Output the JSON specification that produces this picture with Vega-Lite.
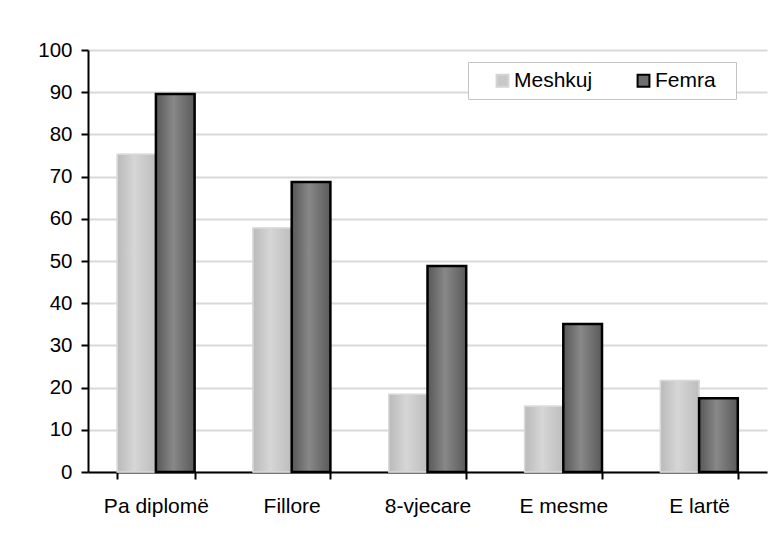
{
  "$schema": "https://vega.github.io/schema/vega-lite/v6.json",
  "width": 679,
  "height": 422,
  "autosize": "none",
  "padding": {"left": 88, "top": 50, "right": 2, "bottom": 64},
  "background": "white",
  "data": {
    "values": [
      {"category": "Pa diplomë", "series": "Meshkuj", "value": 75.3},
      {"category": "Pa diplomë", "series": "Femra", "value": 89.6},
      {"category": "Fillore", "series": "Meshkuj", "value": 57.8},
      {"category": "Fillore", "series": "Femra", "value": 68.7},
      {"category": "8-vjecare", "series": "Meshkuj", "value": 18.4},
      {"category": "8-vjecare", "series": "Femra", "value": 48.8},
      {"category": "E mesme", "series": "Meshkuj", "value": 15.6},
      {"category": "E mesme", "series": "Femra", "value": 35.1},
      {"category": "E lartë", "series": "Meshkuj", "value": 21.7},
      {"category": "E lartë", "series": "Femra", "value": 17.5}
    ]
  },
  "encoding": {
    "x": {
      "field": "category", "type": "nominal",
      "sort": ["Pa diplomë", "Fillore", "8-vjecare", "E mesme", "E lartë"],
      "scale": {"paddingInner": 0.43, "paddingOuter": 0.215},
      "axis": {
        "title": null, "labelAngle": 0, "tickBand": "extent",
        "domainColor": "black", "domainWidth": 2,
        "tickColor": "black", "tickWidth": 2, "tickSize": 7,
        "labelFont": "Liberation Sans", "labelFontSize": 21, "labelColor": "black",
        "labelPadding": 16, "grid": false
      }
    },
    "xOffset": {
      "field": "series", "type": "nominal",
      "sort": ["Meshkuj", "Femra"],
      "scale": {"paddingInner": 0, "paddingOuter": 0}
    },
    "y": {
      "field": "value", "type": "quantitative",
      "scale": {"domain": [0, 100], "nice": false},
      "axis": {
        "title": null, "values": [0,10,20,30,40,50,60,70,80,90,100],
        "domainColor": "black", "domainWidth": 2,
        "tickColor": "black", "tickWidth": 2, "tickSize": 7,
        "labelFont": "Liberation Sans", "labelFontSize": 20.5, "labelColor": "black",
        "labelPadding": 9,
        "gridColor": "#d9d9d9", "gridWidth": 2
      }
    }
  },
  "layer": [
    {
      "mark": {"type": "bar"},
      "encoding": {
        "fill": {
          "field": "series", "type": "nominal",
          "sort": ["Meshkuj", "Femra"],
          "scale": {"domain": ["Meshkuj", "Femra"], "range": ["#c8c8c8", "#6e6e6e"]},
          "legend": {
            "title": "\u00a0", "titleOrient": "right", "titlePadding": 12,
            "orient": "none", "legendX": 380, "legendY": 12,
            "direction": "horizontal",
            "fillColor": "white", "strokeColor": "#c4c4c4", "padding": 8,
            "symbolType": "square", "symbolSize": 140, "symbolStrokeWidth": 2,
            "symbolOffset": 16, "labelOffset": 1, "columnPadding": 24,
            "labelFont": "Liberation Sans", "labelFontSize": 21, "labelColor": "black"
          }
        },
        "stroke": {
          "field": "series", "type": "nominal",
          "scale": {"domain": ["Meshkuj", "Femra"], "range": ["#d4d4d4", "#000000"]},
          "legend": null
        }
      }
    },
    {
      "transform": [{"filter": "datum.series === 'Meshkuj'"}],
      "mark": {
        "type": "bar", "stroke": "#d9d9d9", "strokeWidth": 1.5,
        "fill": {
          "gradient": "linear", "x1": 0, "x2": 1, "y1": 0, "y2": 0,
          "stops": [
            {"offset": 0, "color": "#bababa"},
            {"offset": 0.45, "color": "#d6d6d6"},
            {"offset": 1, "color": "#bdbdbd"}
          ]
        }
      }
    },
    {
      "transform": [{"filter": "datum.series === 'Femra'"}],
      "mark": {
        "type": "bar", "stroke": "black", "strokeWidth": 2.5,
        "fill": {
          "gradient": "linear", "x1": 0, "x2": 1, "y1": 0, "y2": 0,
          "stops": [
            {"offset": 0, "color": "#575757"},
            {"offset": 0.45, "color": "#888888"},
            {"offset": 1, "color": "#5a5a5a"}
          ]
        }
      }
    }
  ],
  "config": {
    "view": {"stroke": null},
    "font": "Liberation Sans"
  }
}
